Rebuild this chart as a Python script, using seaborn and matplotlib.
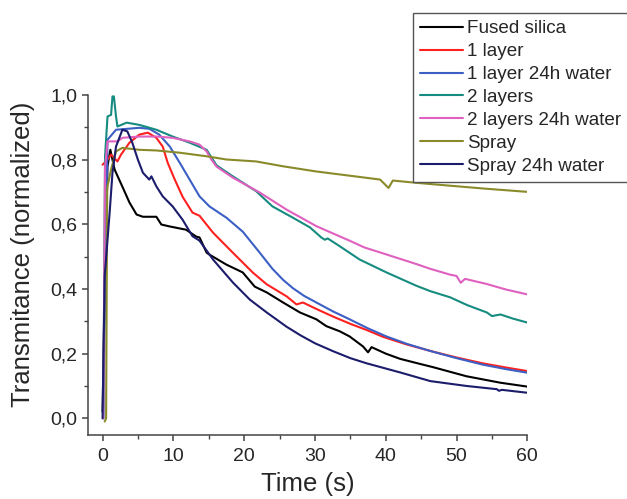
import matplotlib
matplotlib.use("Agg")
import matplotlib.pyplot as plt
from matplotlib.ticker import AutoMinorLocator, FuncFormatter, MultipleLocator
import seaborn as sns
import pandas as pd

# Dados (tempo em s, transmitancia normalizada)
series = ["Fused silica", "1 layer", "1 layer 24h water", "2 layers",
          "2 layers 24h water", "Spray", "Spray 24h water"]
cores = ["#000000", "#ff2020", "#3b5fc4", "#168c80", "#e060c0", "#8a8a2a", "#1c1c6c"]

t_fused = [0.0, 0.3, 0.7, 1.1, 1.7, 2.8, 3.8, 4.8, 5.7, 7.6, 8.3, 9.5, 11.8, 13.2, 13.7, 14.7,
           15.1, 17.5, 19.8, 21.5, 23.2, 25.5, 27.9, 30.2, 31.6, 33.5, 34.9, 36.8, 37.5, 38.0,
           40.0, 42.0, 44.5, 46.7, 51.4, 56.2, 60.0]
v_fused = [0.02, 0.40, 0.78, 0.830, 0.769, 0.716, 0.667, 0.630, 0.623, 0.623, 0.599, 0.593,
           0.583, 0.562, 0.559, 0.512, 0.506, 0.475, 0.451, 0.407, 0.389, 0.358, 0.327, 0.306,
           0.285, 0.269, 0.253, 0.222, 0.204, 0.220, 0.200, 0.184, 0.170, 0.158, 0.130, 0.110,
           0.098]

t_1l = [0.0, 0.7, 1.2, 2.1, 2.6, 3.8, 5.2, 6.4, 7.6, 8.5, 9.2, 10.2, 11.3, 12.7, 13.7, 15.6,
        18.4, 21.2, 23.2, 26.0, 27.4, 28.3, 30.5, 32.5, 35.0, 37.3, 39.6, 43.0, 46.7, 50.0,
        53.7, 57.0, 60.0]
v_1l = [0.784, 0.799, 0.815, 0.794, 0.815, 0.852, 0.877, 0.883, 0.867, 0.840, 0.790, 0.738,
        0.685, 0.636, 0.626, 0.574, 0.512, 0.451, 0.414, 0.377, 0.352, 0.358, 0.335, 0.315,
        0.292, 0.273, 0.252, 0.228, 0.206, 0.188, 0.170, 0.157, 0.146]

t_1l_w = [0.1, 0.4, 0.7, 1.9, 5.2, 6.6, 8.0, 9.5, 10.9, 12.3, 13.7, 15.1, 17.5, 19.8, 22.2,
          24.0, 25.5, 26.9, 28.5, 30.2, 32.5, 34.9, 37.5, 40.1, 43.0, 46.3, 50.0, 53.7, 57.0,
          60.0]
v_1l_w = [0.0, 0.5, 0.861, 0.892, 0.898, 0.895, 0.877, 0.840, 0.790, 0.738, 0.686, 0.655,
          0.620, 0.577, 0.512, 0.462, 0.428, 0.402, 0.378, 0.358, 0.331, 0.306, 0.278, 0.253,
          0.230, 0.208, 0.186, 0.166, 0.152, 0.141]

t_2l = [0.1, 0.35, 0.7, 1.2, 1.4, 1.6, 1.9, 2.1, 3.4, 5.2, 7.6, 9.9, 12.3, 14.7, 16.1, 18.4,
        21.7, 24.0, 26.9, 29.3, 30.9, 31.4, 31.8, 33.5, 36.3, 40.1, 44.3, 46.3, 49.1, 51.5,
        54.3, 55.0, 56.2, 58.0, 60.0]
v_2l = [0.0, 0.81, 0.933, 0.938, 0.995, 0.995, 0.933, 0.902, 0.914, 0.907, 0.892, 0.871,
        0.852, 0.830, 0.782, 0.748, 0.702, 0.655, 0.620, 0.590, 0.559, 0.552, 0.556, 0.532,
        0.491, 0.451, 0.410, 0.393, 0.374, 0.350, 0.327, 0.316, 0.321, 0.308, 0.296]

t_2l_w = [0.1, 0.35, 0.7, 2.1, 2.8, 5.2, 7.6, 9.9, 12.3, 13.7, 14.7, 15.4, 16.1, 18.4, 22.2,
          26.0, 30.2, 34.9, 37.0, 39.6, 44.3, 46.3, 49.1, 50.0, 50.6, 51.2, 54.3, 57.0, 60.0]
v_2l_w = [0.0, 0.775, 0.856, 0.856, 0.867, 0.871, 0.871, 0.867, 0.856, 0.846, 0.825, 0.799,
          0.778, 0.744, 0.698, 0.645, 0.594, 0.549, 0.528, 0.510, 0.477, 0.462, 0.444, 0.440,
          0.419, 0.431, 0.415, 0.398, 0.383]

t_spray = [0.3, 0.5, 0.65, 0.7, 1.2, 1.9, 2.8, 5.2, 7.6, 10.9, 14.7, 17.5, 21.7, 25.5, 30.2,
           34.9, 39.2, 40.4, 41.0, 44.3, 49.1, 54.0, 60.0]
v_spray = [-0.01, 0.0, 0.70, 0.717, 0.769, 0.825, 0.836, 0.830, 0.828, 0.821, 0.810, 0.800,
           0.794, 0.779, 0.763, 0.750, 0.738, 0.712, 0.735, 0.728, 0.719, 0.710, 0.700]

t_spray_w = [0.0, 0.3, 1.0, 1.4, 1.9, 2.8, 3.5, 4.2, 5.0, 5.7, 6.6, 6.9, 7.6, 8.5, 9.9, 11.3,
             12.7, 13.7, 15.6, 18.4, 20.8, 23.2, 26.0, 28.0, 30.0, 32.5, 35.0, 37.3, 42.0,
             46.3, 51.4, 55.7, 56.0, 56.4, 60.0]
v_spray_w = [0.0, 0.439, 0.636, 0.759, 0.840, 0.892, 0.887, 0.852, 0.799, 0.759, 0.738, 0.748,
             0.717, 0.686, 0.655, 0.614, 0.563, 0.549, 0.491, 0.420, 0.367, 0.327, 0.283, 0.256,
             0.232, 0.208, 0.186, 0.170, 0.142, 0.115, 0.100, 0.090, 0.085, 0.088, 0.079]

tempos = [t_fused, t_1l, t_1l_w, t_2l, t_2l_w, t_spray, t_spray_w]
valores = [v_fused, v_1l, v_1l_w, v_2l, v_2l_w, v_spray, v_spray_w]

df = pd.concat(
    [pd.DataFrame({"tempo": t, "trans": v, "amostra": nome})
     for nome, t, v in zip(series, tempos, valores)],
    ignore_index=True,
)

sns.set_style("ticks")
plt.rcParams["font.family"] = ["Liberation Sans", "DejaVu Sans"]

fig = plt.figure(figsize=(6.27, 4.99), dpi=100)
ax = fig.add_axes([0.141, 0.128, 0.700, 0.682])

sns.lineplot(
    data=df, x="tempo", y="trans", hue="amostra", hue_order=series,
    palette=dict(zip(series, cores)), estimator=None, sort=False,
    linewidth=1.5, legend=False, ax=ax,
)

ax.set_xlim(-2, 60)
ax.set_ylim(-0.052, 1.0)
ax.xaxis.set_major_locator(MultipleLocator(10))
ax.yaxis.set_major_locator(MultipleLocator(0.2))
ax.xaxis.set_minor_locator(AutoMinorLocator(2))
ax.yaxis.set_minor_locator(AutoMinorLocator(2))
ax.yaxis.set_major_formatter(FuncFormatter(lambda v, p: f"{v:.1f}".replace(".", ",")))

ax.set_xlabel("Time (s)", fontsize=18.5, labelpad=5)
ax.set_ylabel("Transmitance (normalized)", fontsize=18.5)
ax.yaxis.set_label_coords(-0.122, 0.53)

cor_eixo = "#444444"
for lado in ["top", "right"]:
    ax.spines[lado].set_visible(False)
for lado in ["left", "bottom"]:
    ax.spines[lado].set_color(cor_eixo)
    ax.spines[lado].set_linewidth(1.1)
ax.tick_params(which="major", length=4, width=1.1, color=cor_eixo, labelsize=14)
ax.tick_params(axis="x", which="major", pad=5.5)
ax.tick_params(axis="y", which="major", pad=4)
ax.tick_params(which="minor", length=3, width=1.0, color=cor_eixo)

# Legenda no canto superior direito, encostada na borda como na original
handles = [plt.Line2D([], [], color=c, linewidth=1.5) for c in cores]
leg = fig.legend(
    handles, series, loc="upper left", bbox_to_anchor=(413 / 627, 1 - 13 / 499),
    fontsize=13.6, frameon=True, fancybox=False, framealpha=1, edgecolor="#555555",
    handlelength=2.25, handletextpad=0.25, labelspacing=0.3, borderpad=0.38,
    borderaxespad=0,
)
leg.get_frame().set_linewidth(1.0)

fig.savefig("out.png", dpi=100)
